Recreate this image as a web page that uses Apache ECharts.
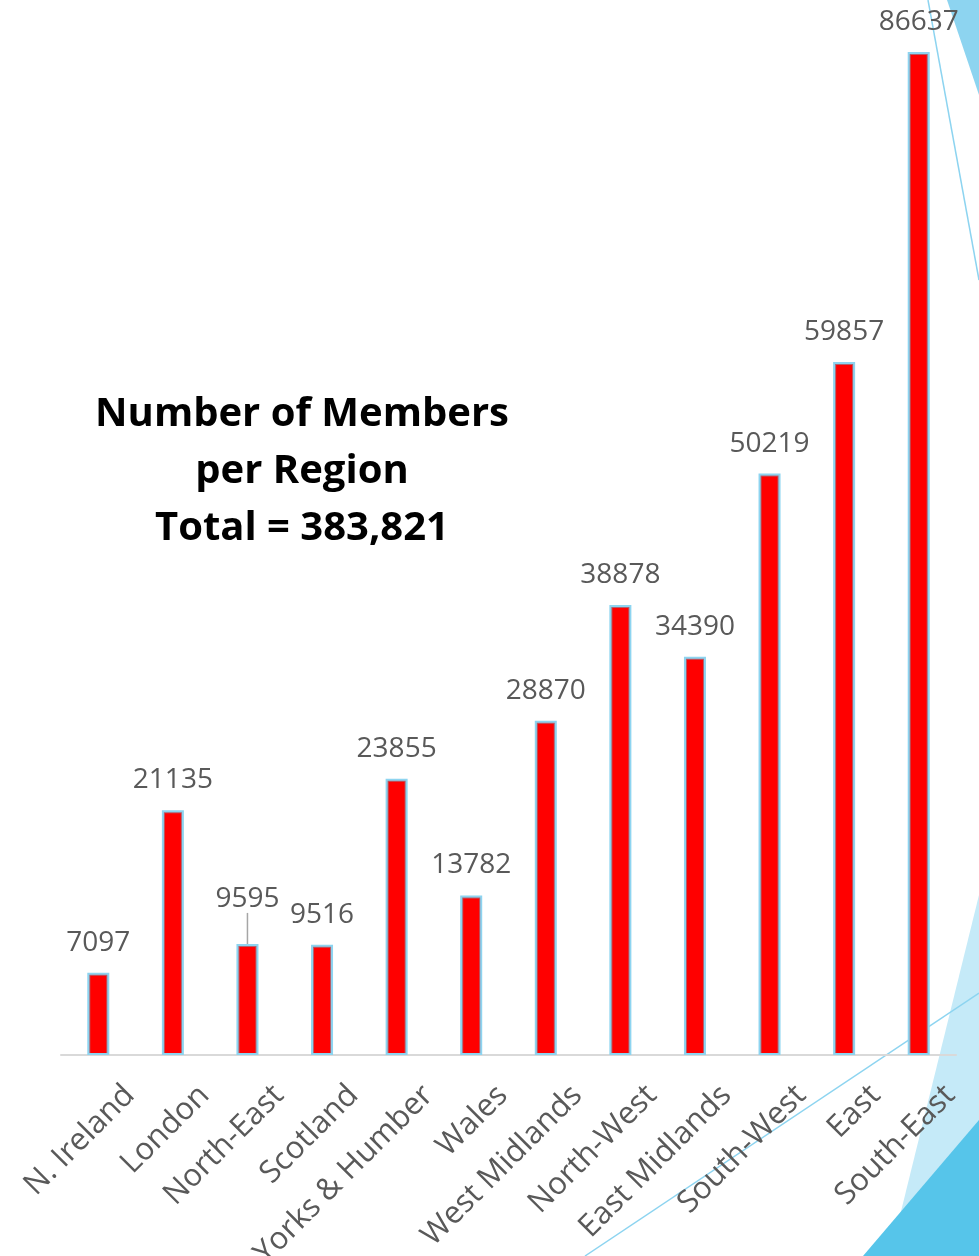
<!DOCTYPE html>
<html>
<head>
<meta charset="utf-8">
<script src="https://cdn.jsdelivr.net/npm/echarts@6/dist/echarts.min.js"></script>
<style>
  html, body { margin: 0; padding: 0; background: #fff; }
  #chart { width: 979px; height: 1256px; }
</style>
</head>
<body>
<div id="chart"></div>
<script>
var regions = ['N. Ireland', 'London', 'North-East', 'Scotland', 'Yorks & Humber', 'Wales',
  'West Midlands', 'North-West', 'East Midlands', 'South-West', 'East', 'South-East']
var members = [7097, 21135, 9595, 9516, 23855, 13782, 28870, 38878, 34390, 50219, 59857, 86637]
var titleLines = ['Number of Members', 'per Region', 'Total = 383,821']

var chart = echarts.init(document.getElementById('chart'))

// outer bar carries the blue outline + label, North-East label sits higher with a leader line
var barData = members.map(function(v, i) {
  if (i === 2) {
    return { value: v, labelLine: { show: true } }
  }
  return v
})

chart.setOption({
  animation: false,
  title: {
    text: titleLines.join('\n'),
    left: 297,
    top: 381,
    textAlign: 'center',
    textStyle: {
      fontFamily: 'Open Sans',
      fontWeight: 'bold',
      fontSize: 40,
      lineHeight: 57,
      color: '#000'
    }
  },
  grid: {
    left: 61,
    width: 895,
    top: 52,
    height: 1003,
    outerBoundsMode: 'none'
  },
  xAxis: {
    type: 'category',
    data: regions,
    axisTick: { show: false },
    axisLine: { lineStyle: { color: '#d9d9d9', width: 2 } },
    axisLabel: {
      interval: 0,
      rotate: 45,
      margin: 4,
      verticalAlign: 'top',
      padding: [29, 0, 0, 0],
      color: '#595959',
      fontFamily: 'Open Sans',
      fontSize: 31
    }
  },
  yAxis: {
    type: 'value',
    min: 0,
    max: 'dataMax',
    show: false,
    splitLine: { show: false }
  },
  graphic: {
    elements: [
      { type: 'polygon', z: -1, silent: true, shape: { points: [[947, 0], [979, 0], [979, 95]] }, style: { fill: '#8dd4f0' } },
      { type: 'line', z: -1, silent: true, shape: { x1: 928, y1: 0, x2: 979, y2: 280 }, style: { stroke: '#8dd4f0', lineWidth: 1.5 } },
      { type: 'polygon', z: -1, silent: true, shape: { points: [[979, 895], [979, 1256], [890, 1256]] }, style: { fill: '#c5eaf8' } },
      { type: 'polygon', z: -1, silent: true, shape: { points: [[979, 1120], [979, 1256], [863, 1256]] }, style: { fill: '#56c5ea' } },
      { type: 'line', z: -1, silent: true, shape: { x1: 585, y1: 1256, x2: 979, y2: 993 }, style: { stroke: '#8dd4f0', lineWidth: 1.5 } }
    ]
  },
  series: [
    {
      type: 'bar',
      data: barData,
      barWidth: 22,
      z: 2,
      itemStyle: {
        color: '#b0606c',
        borderColor: '#8dd4f0',
        borderWidth: 2
      },
      label: {
        show: true,
        position: 'top',
        distance: 16,
        color: '#595959',
        fontFamily: 'Open Sans',
        fontSize: 28
      },
      labelLine: {
        show: false,
        lineStyle: { color: '#a6a6a6', width: 1.5 }
      },
      labelLayout: function(params) {
        if (params.dataIndex === 2) {
          return { dy: -15 }
        }
        return {}
      }
    },
    {
      // red core of each bar, inset inside the outlined bar
      type: 'custom',
      data: members.map(function(v, i) { return [i, v] }),
      z: 3,
      silent: true,
      renderItem: function(params, api) {
        var top = api.coord([api.value(0), api.value(1)])
        var base = api.coord([api.value(0), 0])
        return {
          type: 'rect',
          shape: {
            x: top[0] - 8,
            y: top[1] + 3,
            width: 16,
            height: base[1] - top[1] - 5
          },
          style: { fill: '#ff0000' }
        }
      }
    }
  ]
})
</script>
</body>
</html>
